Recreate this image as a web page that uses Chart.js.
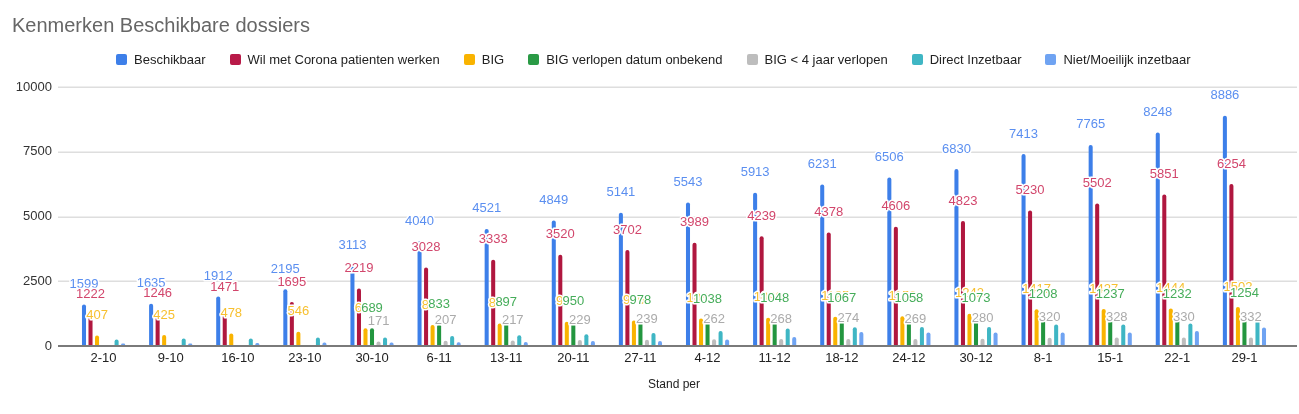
<!DOCTYPE html>
<html>
<head>
<meta charset="utf-8">
<script src="https://cdn.jsdelivr.net/npm/chart.js@4.4.1/dist/chart.umd.min.js"></script>
<style>
  html, body { margin: 0; padding: 0; background: #fff; }
  #wrap { position: relative; width: 1299px; height: 414px; overflow: hidden; font-family: "Liberation Sans", Arial, sans-serif; }
  #title { position: absolute; left: 12px; top: 13px; font-size: 20px; line-height: 24px; color: #666; white-space: nowrap; }
  #legend { position: absolute; left: 116px; top: 51px; height: 16px; display: flex; align-items: center; gap: 24px; white-space: nowrap; }
  .leg { display: flex; align-items: center; font-size: 13px; color: #222; white-space: nowrap; }
  .leg i { display: inline-block; width: 11px; height: 11px; border-radius: 2px; margin-right: 7px; }
  canvas { position: absolute; left: 0; top: 0; }
</style>
</head>
<body>
<div id="wrap">
  <canvas id="c" width="1299" height="414"></canvas>
  <div id="title">Kenmerken Beschikbare dossiers</div>
  <div id="legend"></div>
</div>
<script>
const categories = ['2-10','9-10','16-10','23-10','30-10','6-11','13-11','20-11','27-11','4-12','11-12','18-12','24-12','30-12','8-1','15-1','22-1','29-1'];
const seriesNames = ['Beschikbaar','Wil met Corona patienten werken','BIG','BIG verlopen datum onbekend','BIG < 4 jaar verlopen','Direct Inzetbaar','Niet/Moeilijk inzetbaar'];
const beschikbaar = [1599,1635,1912,2195,3113,4040,4521,4849,5141,5543,5913,6231,6506,6830,7413,7765,8248,8886];
const corona = [1222,1246,1471,1695,2219,3028,3333,3520,3702,3989,4239,4378,4606,4823,5230,5502,5851,6254];
const big = [407,425,478,546,690,810,870,940,985,1060,1090,1125,1152,1242,1417,1427,1444,1502];
const bigVerlopen = [0,0,0,0,689,833,897,950,978,1038,1048,1067,1058,1073,1208,1237,1232,1254];
const bigVier = [0,0,0,0,171,207,217,229,239,262,268,274,269,280,320,328,330,332];
const directInzetbaar = [248,287,287,325,325,390,415,453,504,581,674,725,736,736,829,829,868,1100];
const nietInzetbaar = [93,93,116,132,132,140,155,194,194,248,349,543,519,519,519,519,581,713];
const yTicks = [0,2500,5000,7500,10000];

const barColors = ['#3d7fe9','#b0173f','#f9b300','#23963f','#bdbdbd','#3fb6c4','#6fa3f2'];
const legendColors = ['#3d7fe9','#b81a48','#f9b300','#2a9a45','#bdbdbd','#3fb6c4','#6fa3f2'];
const labelColors = ['#5b8ff0','#d2466c','#f7c030','#46ad5a','#ababab'];
const allData = [beschikbaar, corona, big, bigVerlopen, bigVier, directInzetbaar, nietInzetbaar];

const leg = document.getElementById('legend');
seriesNames.forEach((n,i)=>{
  const d = document.createElement('div');
  d.className = 'leg';
  const sw = document.createElement('i');
  sw.style.background = legendColors[i];
  d.appendChild(sw);
  d.appendChild(document.createTextNode(n));
  leg.appendChild(d);
});

const GRID_LEFT = 58, GRID_RIGHT = 1297;
const gridPlugin = {
  id: 'gridPlugin',
  beforeDatasetsDraw(chart) {
    const ctx = chart.ctx, y = chart.scales.y;
    ctx.save();
    ctx.strokeStyle = '#dedede';
    ctx.lineWidth = 1.5;
    yTicks.forEach(v => {
      if (v === 0) return;
      const py = Math.round(y.getPixelForValue(v)) + 0.25;
      ctx.beginPath(); ctx.moveTo(GRID_LEFT, py); ctx.lineTo(GRID_RIGHT, py); ctx.stroke();
    });
    ctx.restore();
  },
  afterDatasetsDraw(chart) {
    const ctx = chart.ctx, y = chart.scales.y;
    ctx.save();
    ctx.strokeStyle = '#7a7a7a';
    ctx.lineWidth = 2;
    const py = y.getPixelForValue(0);
    ctx.beginPath(); ctx.moveTo(GRID_LEFT, py); ctx.lineTo(GRID_RIGHT, py); ctx.stroke();
    ctx.font = '13px "Liberation Sans", Arial, sans-serif';
    ctx.textAlign = 'center';
    ctx.textBaseline = 'middle';
    ctx.lineJoin = 'round';
    for (let d = 0; d < 5; d++) {
      const meta = chart.getDatasetMeta(d);
      meta.data.forEach((el, i) => {
        const v = chart.data.datasets[d].data[i];
        if (!v) return;
        const ty = el.y - 20;
        ctx.lineWidth = 3;
        ctx.strokeStyle = '#ffffff';
        ctx.strokeText(String(v), el.x, ty);
        ctx.fillStyle = labelColors[d];
        ctx.fillText(String(v), el.x, ty);
      });
    }
    ctx.restore();
  }
};

new Chart(document.getElementById('c'), {
  type: 'bar',
  data: {
    labels: categories,
    datasets: seriesNames.map((n, i) => ({
      label: n,
      data: allData[i],
      backgroundColor: barColors[i],
      borderWidth: 0,
      borderRadius: {topLeft: 2, topRight: 2, bottomLeft: 0, bottomRight: 0},
      borderSkipped: 'bottom',
      categoryPercentage: 0.68,
      barPercentage: 0.62
    }))
  },
  options: {
    responsive: false,
    animation: false,
    devicePixelRatio: 1,
    layout: { padding: { left: 0, right: 21, top: 87, bottom: 0 } },
    plugins: { legend: { display: false }, title: { display: false }, tooltip: { enabled: false } },
    scales: {
      x: {
        offset: true,
        grid: { display: false, drawTicks: false },
        border: { display: false },
        ticks: { color: '#222', font: { family: '"Liberation Sans", Arial, sans-serif', size: 13 }, padding: 5, maxRotation: 0, autoSkip: false },
        title: { display: true, text: 'Stand per', color: '#222', font: { family: '"Liberation Sans", Arial, sans-serif', size: 12 }, padding: { top: 0, bottom: 22 } },
        afterFit(s) { s.height = 68; }
      },
      y: {
        min: 0, max: 10000,
        afterBuildTicks(s) { s.ticks = yTicks.map(v => ({ value: v })); },
        grid: { display: false, drawTicks: false },
        border: { display: false },
        ticks: { color: '#333', font: { family: '"Liberation Sans", Arial, sans-serif', size: 13 }, padding: 18, callback: v => String(v) },
        afterFit(s) { s.width = 70; }
      }
    }
  },
  plugins: [gridPlugin]
});
</script>
</body>
</html>
